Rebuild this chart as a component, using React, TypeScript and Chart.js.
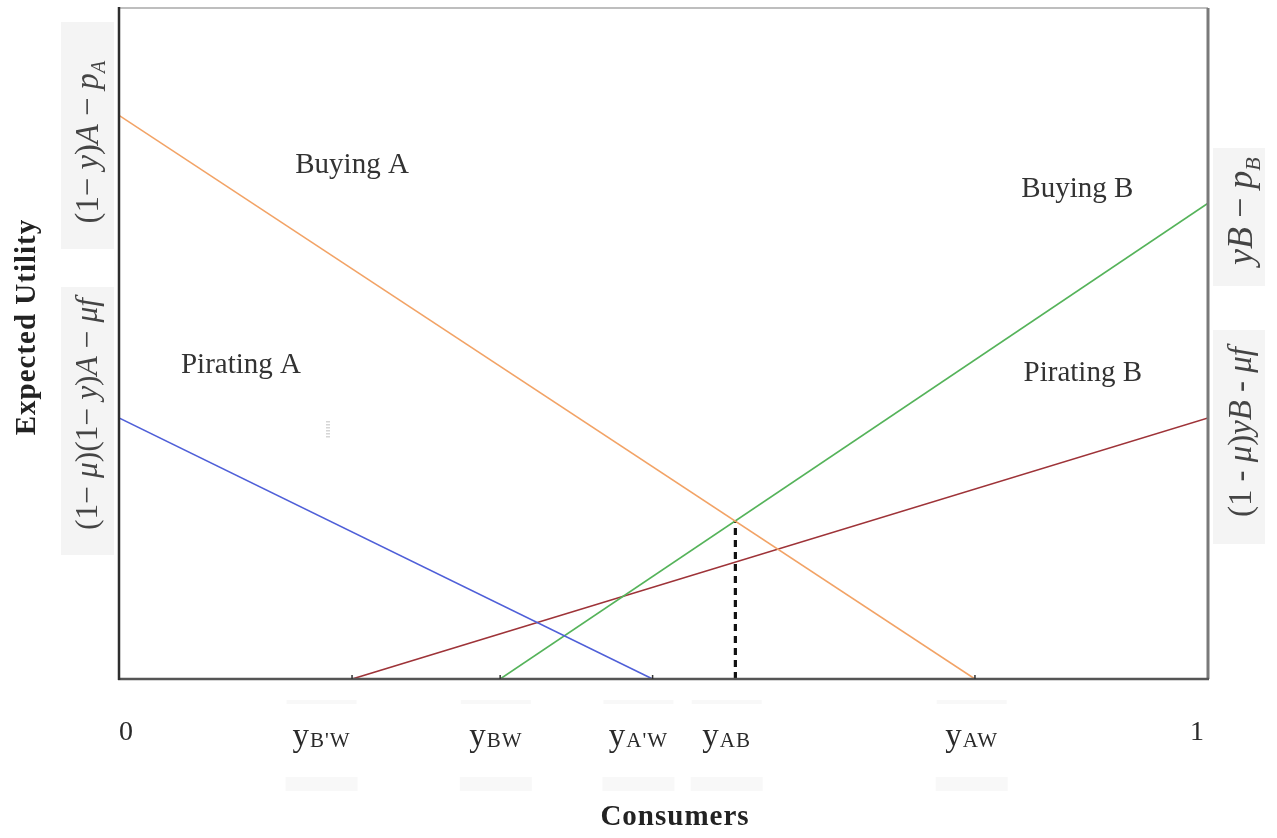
import React, { useEffect, useRef } from "react";
import { Chart, registerables } from "chart.js";

Chart.register(...registerables);

// Consumer position runs 0..1 along x; expected utility runs 0..100 along y.
const buyingAX = [0, 0.786];
const buyingAY = [84.0, 0];
const piratingAX = [0, 0.49];
const piratingAY = [38.9, 0];
const buyingBX = [0.35, 1];
const buyingBY = [0, 70.9];
const piratingBX = [0.214, 1];
const piratingBY = [0, 38.9];
const cutoffX = [0.566, 0.566];
const cutoffY = [0, 23.6];

// Labels under the consumer axis
const tickValues = [0, 0.186, 0.346, 0.477, 0.558, 0.783, 0.99];
const tickMain = ["0", "y", "y", "y", "y", "y", "1"];
const tickSub = ["", "B'W", "BW", "A'W", "AB", "AW", ""];

// Region names written inside the plot
const regionNames = ["Buying A", "Pirating A", "Buying B", "Pirating B"];
const regionX = [0.214, 0.112, 0.88, 0.885];
const regionY = [76.6, 46.8, 73.0, 45.5];

type Run = { t: string; it?: boolean; sub?: boolean };

const leftTop: Run[] = [
  { t: "(1\u2212 " },
  { t: "y", it: true },
  { t: ")" },
  { t: "A", it: true },
  { t: " \u2212 " },
  { t: "p", it: true },
  { t: "A", it: true, sub: true },
];
const leftBottom: Run[] = [
  { t: "(1\u2212 " },
  { t: "\u03bc", it: true },
  { t: ")(1\u2212 " },
  { t: "y", it: true },
  { t: ")" },
  { t: "A", it: true },
  { t: " \u2212 " },
  { t: "\u03bcf", it: true },
];
const rightTop: Run[] = [
  { t: "yB", it: true },
  { t: " \u2212 " },
  { t: "p", it: true },
  { t: "B", it: true, sub: true },
];
const rightBottom: Run[] = [
  { t: "(1 - " },
  { t: "\u03bc", it: true },
  { t: ")" },
  { t: "yB", it: true },
  { t: " - " },
  { t: "\u03bcf", it: true },
];

const runFont = (r: Run, size: number) =>
  `${r.it ? "italic " : ""}${r.sub ? Math.round(size * 0.62) : size}px "Liberation Serif"`;

// Draws a rotated formula centred at (cx, cy), sized to span `length` pixels.
function drawFormula(ctx: CanvasRenderingContext2D, runs: Run[], cx: number, cy: number, length: number) {
  const base = 24;
  let total = 0;
  for (const r of runs) {
    ctx.font = runFont(r, base);
    total += ctx.measureText(r.t).width;
  }
  const size = (base * length) / total;
  ctx.save();
  ctx.translate(cx, cy);
  ctx.rotate(-Math.PI / 2);
  ctx.fillStyle = "#444444";
  ctx.textBaseline = "alphabetic";
  ctx.textAlign = "left";
  let x = -length / 2;
  for (const r of runs) {
    ctx.font = runFont(r, size);
    ctx.fillText(r.t, x, size * 0.33 + (r.sub ? size * 0.22 : 0));
    x += ctx.measureText(r.t).width;
  }
  ctx.restore();
}

const pts = (xs: number[], ys: number[]) => xs.map((x, i) => ({ x, y: ys[i] }));

const decorations = {
  id: "decorations",
  beforeDatasetsDraw(chart: any) {
    const ctx: CanvasRenderingContext2D = chart.ctx;
    const xs = chart.scales.x;
    ctx.save();
    // shaded panels behind the formulas
    ctx.fillStyle = "#f4f4f4";
    ctx.fillRect(61, 22, 53, 227);
    ctx.fillRect(61, 287, 53, 268);
    ctx.fillRect(1213, 148, 52, 138);
    ctx.fillRect(1213, 330, 52, 214);
    // faint bands above and below the consumer labels
    ctx.fillStyle = "#f8f8f8";
    tickValues.forEach((v, i) => {
      if (!tickSub[i]) return;
      const px = xs.getPixelForValue(v);
      ctx.fillRect(px - 35, 700, 70, 4);
      ctx.fillRect(px - 36, 777, 72, 14);
    });
    // small stray hatch mark in the plot body
    ctx.fillStyle = "#d6d6d6";
    for (let k = 0; k < 6; k++) ctx.fillRect(326, 421 + k * 3, 4, 1.5);
    ctx.restore();
  },
  afterDatasetsDraw(chart: any) {
    const ctx: CanvasRenderingContext2D = chart.ctx;
    const { left, right, top, bottom } = chart.chartArea;
    const xs = chart.scales.x;
    const ys = chart.scales.y;
    ctx.save();
    // frame
    ctx.lineCap = "butt";
    ctx.strokeStyle = "#a8a8a8";
    ctx.lineWidth = 1.5;
    ctx.beginPath();
    ctx.moveTo(left, top);
    ctx.lineTo(right, top);
    ctx.stroke();
    ctx.strokeStyle = "#7a7a7a";
    ctx.lineWidth = 3;
    ctx.beginPath();
    ctx.moveTo(right, top);
    ctx.lineTo(right, bottom);
    ctx.stroke();
    ctx.strokeStyle = "#555555";
    ctx.lineWidth = 2.5;
    ctx.beginPath();
    ctx.moveTo(left - 1, bottom);
    ctx.lineTo(right + 1, bottom);
    ctx.stroke();
    ctx.strokeStyle = "#2e2e2e";
    ctx.lineWidth = 2.5;
    ctx.beginPath();
    ctx.moveTo(left, top - 1);
    ctx.lineTo(left, bottom + 1);
    ctx.stroke();

    // small marks where each line meets the consumer axis
    ctx.strokeStyle = "#333";
    ctx.lineWidth = 1.5;
    [buyingAX[1], piratingAX[1], buyingBX[0], piratingBX[0]].forEach((v) => {
      const px = xs.getPixelForValue(v);
      ctx.beginPath();
      ctx.moveTo(px, bottom);
      ctx.lineTo(px, bottom - 4);
      ctx.stroke();
    });

    // region names
    ctx.fillStyle = "#333";
    ctx.font = '29px "Liberation Serif"';
    ctx.textAlign = "center";
    ctx.textBaseline = "middle";
    regionNames.forEach((name, i) => {
      ctx.fillText(name, xs.getPixelForValue(regionX[i]), ys.getPixelForValue(regionY[i]));
    });

    // consumer labels
    ctx.fillStyle = "#2a2a2a";
    ctx.textBaseline = "alphabetic";
    tickValues.forEach((v, i) => {
      const px = xs.getPixelForValue(v);
      if (!tickSub[i]) {
        ctx.font = '28px "Liberation Serif"';
        ctx.textAlign = "center";
        ctx.fillText(tickMain[i], px + (i === 0 ? 7 : 0), 740);
        return;
      }
      const mainFont = '33px "Liberation Serif"';
      const subFont = '21px "Liberation Serif"';
      (ctx as any).letterSpacing = "1px";
      ctx.font = mainFont;
      const w1 = ctx.measureText(tickMain[i]).width;
      ctx.font = subFont;
      const w2 = ctx.measureText(tickSub[i]).width;
      const x0 = px - (w1 + w2) / 2;
      ctx.textAlign = "left";
      ctx.font = mainFont;
      ctx.fillText(tickMain[i], x0, 746);
      ctx.font = subFont;
      ctx.fillText(tickSub[i], x0 + w1, 747);
      (ctx as any).letterSpacing = "0px";
    });

    // axis titles
    ctx.fillStyle = "#222";
    ctx.font = 'bold 29px "Liberation Serif"';
    (ctx as any).letterSpacing = "1px";
    ctx.textAlign = "center";
    ctx.textBaseline = "middle";
    ctx.fillText("Consumers", 675, 818);
    ctx.save();
    ctx.translate(28, 327);
    ctx.rotate(-Math.PI / 2);
    ctx.fillText("Expected Utility", 0, 0);
    ctx.restore();
    (ctx as any).letterSpacing = "0px";

    // formulas beside the utility axes
    drawFormula(ctx, leftTop, 87, 142, 163);
    drawFormula(ctx, leftBottom, 87, 414, 232);
    drawFormula(ctx, rightTop, 1240, 211, 108);
    drawFormula(ctx, rightBottom, 1240, 432, 170);
    ctx.restore();
  },
};

export default function App() {
  const canvasRef = useRef<HTMLCanvasElement | null>(null);

  useEffect(() => {
    const canvas = canvasRef.current;
    if (!canvas) return;
    const line = (data: { x: number; y: number }[], color: string, extra: any = {}) => ({
      data,
      borderColor: color,
      backgroundColor: color,
      borderWidth: 1.6,
      pointRadius: 0,
      showLine: true,
      fill: false,
      ...extra,
    });
    const chart = new Chart(canvas, {
      type: "scatter",
      data: {
        datasets: [
          line(pts(buyingAX, buyingAY), "#f2a366"),
          line(pts(piratingAX, piratingAY), "#4f5fd8"),
          line(pts(buyingBX, buyingBY), "#55b35a"),
          line(pts(piratingBX, piratingBY), "#9e3338"),
          line(pts(cutoffX, cutoffY), "#111111", { borderWidth: 3.2, borderDash: [7, 5] }),
        ],
      },
      options: {
        animation: false,
        responsive: false,
        maintainAspectRatio: false,
        layout: { padding: { left: 119, top: 8, right: 69, bottom: 159 } },
        scales: {
          x: { type: "linear", min: 0, max: 1, display: false },
          y: { type: "linear", min: 0, max: 100, display: false },
        },
        plugins: { legend: { display: false }, tooltip: { enabled: false } },
      },
      plugins: [decorations],
    });
    return () => chart.destroy();
  }, []);

  return (
    <div style={{ position: "fixed", left: 0, top: 0, width: 1277, height: 838, background: "#fff" }}>
      <canvas ref={canvasRef} width={1277} height={838} style={{ display: "block" }} />
    </div>
  );
}
